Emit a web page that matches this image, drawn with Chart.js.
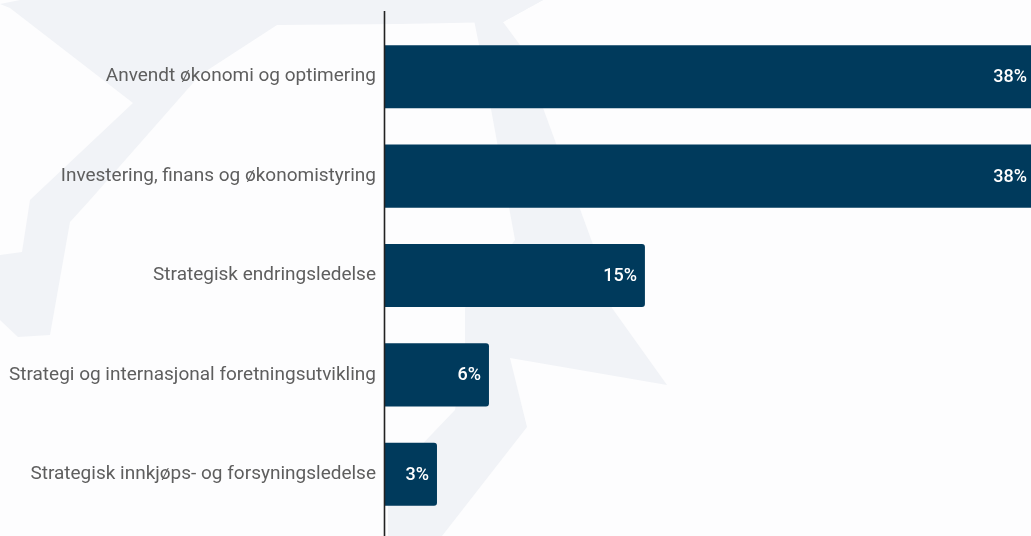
<!DOCTYPE html>
<html>
<head>
<meta charset="utf-8">
<script src="https://cdn.jsdelivr.net/npm/chart.js@4/dist/chart.umd.min.js"></script>
<style>
  html, body { margin: 0; padding: 0; background: #fff; }
  #wrap { width: 1031px; height: 536px; position: relative; }
</style>
</head>
<body>
<div id="wrap"><canvas id="myChart"></canvas></div>
<script>
// data
let programmes = [
  "Anvendt økonomi og optimering",
  "Investering, finans og økonomistyring",
  "Strategisk endringsledelse",
  "Strategi og internasjonal foretningsutvikling",
  "Strategisk innkjøps- og forsyningsledelse"
]
let shares = [38, 38, 15, 6, 3]

// faint logo in the background
let logoParts = [
  [[0,4],[20,0],[543,0],[503,22],[400,24],[277,25],[200,75],[90,200],[70,222],[50,335],[18,337],[0,320],[0,255],[22,252],[30,200],[133,103],[10,8]],
  [[470,0],[543,0],[503,22],[520,45],[595,250],[612,308],[667,385],[510,358],[527,427],[442,536],[388,536],[388,480],[455,410],[465,345],[465,308],[515,240],[482,60]]
]

const backdrop = {
  id: "backdrop",
  beforeDraw(chart){
    const c = chart.ctx
    c.save()
    c.fillStyle = "#fdfdfe"
    c.fillRect(0, 0, chart.width, chart.height)
    c.fillStyle = "#f1f3f7"
    logoParts.forEach(part => {
      c.beginPath()
      part.forEach((p, i) => i ? c.lineTo(p[0], p[1]) : c.moveTo(p[0], p[1]))
      c.closePath()
      c.fill()
    })
    c.restore()
  }
}

const valueLabels = {
  id: "valueLabels",
  afterDatasetsDraw(chart){
    const c = chart.ctx
    const area = chart.chartArea
    // the vertical axis line, runs a bit above the first bar
    c.save()
    c.strokeStyle = "#222"
    c.lineWidth = 1.6
    c.beginPath()
    c.moveTo(area.left - 0.5, 11)
    c.lineTo(area.left - 0.5, chart.height)
    c.stroke()

    c.fillStyle = "#fff"
    c.font = "500 18px Roboto"
    c.textAlign = "right"
    c.textBaseline = "middle"
    chart.getDatasetMeta(0).data.forEach((bar, i) => {
      let x = bar.x > area.right ? area.right - 4 : bar.x - 8
      c.fillText(shares[i] + "%", x, bar.y + 1)
    })
    c.restore()
  }
}

const ctx = document.getElementById("myChart")
const myChart = new Chart(ctx, {
  type: "bar",
  data: {
    labels: programmes,
    datasets: [{
      data: shares,
      backgroundColor: "#003a5c",
      borderRadius: 3,
      borderSkipped: "start",
      barPercentage: 0.635,
      categoryPercentage: 1
    }]
  },
  options: {
    indexAxis: "y",
    responsive: true,
    maintainAspectRatio: false,
    animation: false,
    layout: { padding: { top: 27, bottom: 12, left: 0, right: 0 } },
    plugins: {
      legend: { display: false },
      tooltip: { enabled: false }
    },
    scales: {
      x: {
        display: false,
        min: 0,
        max: 37.28
      },
      y: {
        afterFit(scale){
          scale.width = 385
          scale.paddingTop = 0
          scale.paddingBottom = 0
        },
        grid: { display: false, drawTicks: false },
        border: { display: false },
        ticks: {
          padding: 9,
          color: "#5e5e5e",
          font: { family: "Roboto", size: 19 }
        }
      }
    }
  },
  plugins: [backdrop, valueLabels]
})
</script>
</body>
</html>
